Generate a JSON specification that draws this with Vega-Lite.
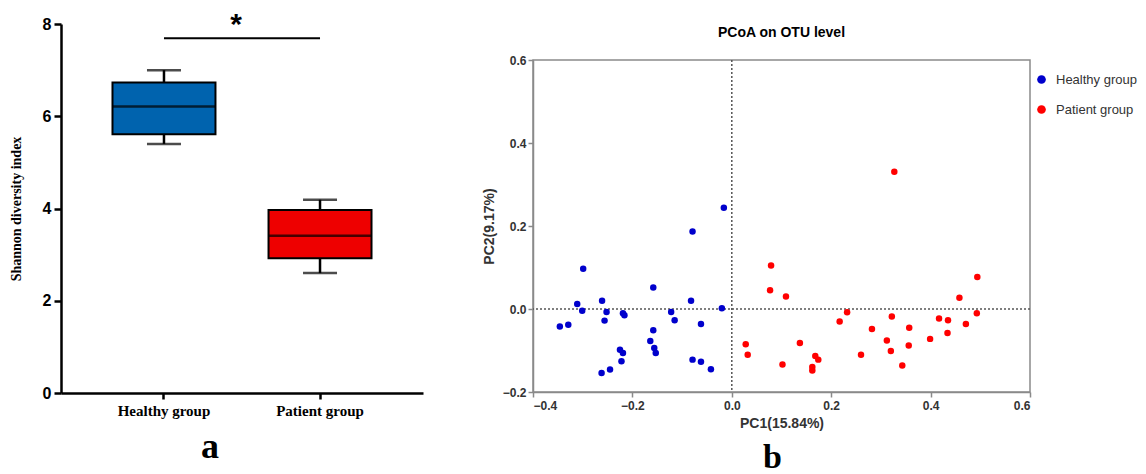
{
  "$schema": "https://vega.github.io/schema/vega-lite/v6.json",
  "background": "white",
  "padding": {"top": 10, "left": 9, "right": 0, "bottom": 0},
  "spacing": 58,
  "config": {
    "font": "Liberation Sans",
    "view": {"stroke": null},
    "axis": {"grid": false}
  },
  "hconcat": [
    {
      "width": 362,
      "height": 369,
      "title": {"text": "a", "orient": "bottom", "frame": "bounds", "anchor": "middle", "font": "Liberation Serif", "fontSize": 36, "fontWeight": "bold", "color": "black", "offset": 12, "dx": -6},
      "layer": [
        {
          "data": {"values": [
            {"group": "Healthy group", "min": 5.40, "q1": 5.61, "median": 6.21, "q3": 6.73, "max": 7.00},
            {"group": "Patient group", "min": 2.60, "q1": 2.92, "median": 3.41, "q3": 3.97, "max": 4.19}
          ]},
          "layer": [
            {
              "mark": {"type": "rule", "color": "black", "strokeWidth": 2.5},
              "encoding": {
                "x": {"field": "group", "type": "nominal", "sort": null,
                  "scale": {"paddingOuter": 0.16, "paddingInner": 0},
                  "axis": {"title": null, "labelAngle": 0, "domainColor": "black", "domainWidth": 2.5, "tickColor": "black", "tickWidth": 2.5, "tickSize": 6, "labelFont": "Liberation Serif", "labelFontSize": 15, "labelFontWeight": "bold", "labelColor": "black", "labelPadding": 4}},
                "y": {"field": "min", "type": "quantitative",
                  "scale": {"domain": [0, 8], "nice": false},
                  "axis": {"title": "Shannon diversity index", "values": [0, 2, 4, 6, 8], "domainColor": "black", "domainWidth": 2.5, "tickColor": "black", "tickWidth": 2.5, "tickSize": 7, "labelFontSize": 16, "labelFontWeight": "bold", "labelColor": "black", "labelPadding": 3, "titleFont": "Liberation Serif", "titleFontSize": 14, "titleFontWeight": "bold", "titleColor": "black", "titlePadding": 19}},
                "y2": {"field": "max"}
              }
            },
            {
              "mark": {"type": "tick", "color": "black", "size": 34, "thickness": 2.5},
              "encoding": {
                "x": {"field": "group", "type": "nominal", "sort": null},
                "y": {"field": "max", "type": "quantitative"}
              }
            },
            {
              "mark": {"type": "tick", "color": "black", "size": 34, "thickness": 2.5},
              "encoding": {
                "x": {"field": "group", "type": "nominal", "sort": null},
                "y": {"field": "min", "type": "quantitative"}
              }
            },
            {
              "mark": {"type": "bar", "width": {"band": 0.66}, "stroke": "black", "strokeWidth": 2},
              "encoding": {
                "x": {"field": "group", "type": "nominal", "sort": null},
                "y": {"field": "q1", "type": "quantitative"},
                "y2": {"field": "q3"},
                "color": {"field": "group", "type": "nominal", "scale": {"domain": ["Healthy group", "Patient group"], "range": ["#0063AE", "#EE0000"]}, "legend": null}
              }
            },
            {
              "mark": {"type": "tick", "color": "black", "size": 103, "thickness": 2.5},
              "encoding": {
                "x": {"field": "group", "type": "nominal", "sort": null},
                "y": {"field": "median", "type": "quantitative"}
              }
            }
          ]
        },
        {
          "data": {"values": [{"from": "Healthy group", "to": "Patient group", "y": 7.69, "label": "*"}]},
          "layer": [
            {
              "mark": {"type": "rule", "color": "black", "strokeWidth": 2},
              "encoding": {
                "x": {"field": "from", "type": "nominal"},
                "x2": {"field": "to"},
                "y": {"field": "y", "type": "quantitative"}
              }
            },
            {
              "mark": {"type": "text", "fontSize": 30, "fontWeight": "bold", "color": "black", "baseline": "alphabetic", "dx": 72, "dy": -4},
              "encoding": {
                "x": {"field": "from", "type": "nominal"},
                "y": {"field": "y", "type": "quantitative"},
                "text": {"field": "label"}
              }
            }
          ]
        }
      ],
      "resolve": {"scale": {"color": "independent"}}
    },
    {
      "spacing": 13,
      "resolve": {"legend": {"color": "independent"}},
      "vconcat": [
        {
          "width": 497,
          "height": 2,
          "title": {"text": "PCoA on OTU level", "orient": "bottom", "anchor": "middle", "frame": "group", "fontSize": 14, "fontWeight": "bold", "color": "black", "offset": 0},
          "data": {"values": []},
          "mark": {"type": "point"},
          "encoding": {}
        },
        {
          "width": 497,
          "height": 332,
          "title": {"text": "b", "orient": "bottom", "anchor": "middle", "frame": "group", "font": "Liberation Serif", "fontSize": 34, "fontWeight": "bold", "color": "black", "offset": 11, "dx": -9},
          "view": {"stroke": "#8a8a8a", "strokeWidth": 1.5},
          "layer": [
            {
              "data": {"values": [{"v": 0}]},
              "mark": {"type": "rule", "color": "#555", "strokeDash": [2, 2], "strokeWidth": 1.5},
              "encoding": {"x": {"field": "v", "type": "quantitative"}}
            },
            {
              "data": {"values": [{"v": 0}]},
              "mark": {"type": "rule", "color": "#555", "strokeDash": [2, 2], "strokeWidth": 1.5},
              "encoding": {"y": {"field": "v", "type": "quantitative"}}
            },
            {
              "data": {"values": [
                {"PC1": -0.346, "PC2": -0.042, "group": "Healthy group"},
                {"PC1": -0.329, "PC2": -0.038, "group": "Healthy group"},
                {"PC1": -0.311, "PC2": 0.012, "group": "Healthy group"},
                {"PC1": -0.301, "PC2": -0.004, "group": "Healthy group"},
                {"PC1": -0.299, "PC2": 0.097, "group": "Healthy group"},
                {"PC1": -0.261, "PC2": 0.020, "group": "Healthy group"},
                {"PC1": -0.252, "PC2": -0.007, "group": "Healthy group"},
                {"PC1": -0.256, "PC2": -0.028, "group": "Healthy group"},
                {"PC1": -0.219, "PC2": -0.010, "group": "Healthy group"},
                {"PC1": -0.216, "PC2": -0.015, "group": "Healthy group"},
                {"PC1": -0.225, "PC2": -0.098, "group": "Healthy group"},
                {"PC1": -0.219, "PC2": -0.106, "group": "Healthy group"},
                {"PC1": -0.222, "PC2": -0.126, "group": "Healthy group"},
                {"PC1": -0.262, "PC2": -0.154, "group": "Healthy group"},
                {"PC1": -0.245, "PC2": -0.146, "group": "Healthy group"},
                {"PC1": -0.158, "PC2": 0.052, "group": "Healthy group"},
                {"PC1": -0.158, "PC2": -0.051, "group": "Healthy group"},
                {"PC1": -0.164, "PC2": -0.077, "group": "Healthy group"},
                {"PC1": -0.156, "PC2": -0.094, "group": "Healthy group"},
                {"PC1": -0.153, "PC2": -0.106, "group": "Healthy group"},
                {"PC1": -0.122, "PC2": -0.007, "group": "Healthy group"},
                {"PC1": -0.115, "PC2": -0.027, "group": "Healthy group"},
                {"PC1": -0.082, "PC2": 0.020, "group": "Healthy group"},
                {"PC1": -0.079, "PC2": 0.187, "group": "Healthy group"},
                {"PC1": -0.062, "PC2": -0.036, "group": "Healthy group"},
                {"PC1": -0.079, "PC2": -0.122, "group": "Healthy group"},
                {"PC1": -0.062, "PC2": -0.127, "group": "Healthy group"},
                {"PC1": -0.042, "PC2": -0.145, "group": "Healthy group"},
                {"PC1": -0.020, "PC2": 0.002, "group": "Healthy group"},
                {"PC1": -0.016, "PC2": 0.244, "group": "Healthy group"},
                {"PC1": 0.327, "PC2": 0.331, "group": "Patient group"},
                {"PC1": 0.079, "PC2": 0.105, "group": "Patient group"},
                {"PC1": 0.077, "PC2": 0.045, "group": "Patient group"},
                {"PC1": 0.109, "PC2": 0.030, "group": "Patient group"},
                {"PC1": 0.494, "PC2": 0.077, "group": "Patient group"},
                {"PC1": 0.458, "PC2": 0.027, "group": "Patient group"},
                {"PC1": 0.493, "PC2": -0.010, "group": "Patient group"},
                {"PC1": 0.232, "PC2": -0.008, "group": "Patient group"},
                {"PC1": 0.217, "PC2": -0.030, "group": "Patient group"},
                {"PC1": 0.322, "PC2": -0.018, "group": "Patient group"},
                {"PC1": 0.282, "PC2": -0.048, "group": "Patient group"},
                {"PC1": 0.357, "PC2": -0.045, "group": "Patient group"},
                {"PC1": 0.417, "PC2": -0.023, "group": "Patient group"},
                {"PC1": 0.435, "PC2": -0.027, "group": "Patient group"},
                {"PC1": 0.471, "PC2": -0.036, "group": "Patient group"},
                {"PC1": 0.434, "PC2": -0.058, "group": "Patient group"},
                {"PC1": 0.399, "PC2": -0.072, "group": "Patient group"},
                {"PC1": 0.312, "PC2": -0.076, "group": "Patient group"},
                {"PC1": 0.320, "PC2": -0.101, "group": "Patient group"},
                {"PC1": 0.356, "PC2": -0.088, "group": "Patient group"},
                {"PC1": 0.343, "PC2": -0.136, "group": "Patient group"},
                {"PC1": 0.260, "PC2": -0.110, "group": "Patient group"},
                {"PC1": 0.028, "PC2": -0.085, "group": "Patient group"},
                {"PC1": 0.032, "PC2": -0.110, "group": "Patient group"},
                {"PC1": 0.102, "PC2": -0.134, "group": "Patient group"},
                {"PC1": 0.137, "PC2": -0.082, "group": "Patient group"},
                {"PC1": 0.168, "PC2": -0.113, "group": "Patient group"},
                {"PC1": 0.174, "PC2": -0.122, "group": "Patient group"},
                {"PC1": 0.162, "PC2": -0.140, "group": "Patient group"},
                {"PC1": 0.162, "PC2": -0.148, "group": "Patient group"}
              ]},
              "mark": {"type": "point", "shape": "circle", "filled": true, "opacity": 1, "size": 42},
              "encoding": {
                "x": {"field": "PC1", "type": "quantitative",
                  "scale": {"domain": [-0.4, 0.6], "nice": false, "zero": false},
                  "axis": {"title": "PC1(15.84%)", "values": [-0.4, -0.2, 0, 0.2, 0.4, 0.6], "format": ".1f", "domainColor": "#8a8a8a", "domainWidth": 1.5, "tickColor": "#8a8a8a", "tickWidth": 1.5, "tickSize": 5, "labelFontSize": 12, "labelFontWeight": "bold", "labelColor": "#333", "labelPadding": 3, "titleFontSize": 14, "titleFontWeight": "bold", "titleColor": "#333", "titlePadding": 5}},
                "y": {"field": "PC2", "type": "quantitative",
                  "scale": {"domain": [-0.2, 0.6], "nice": false, "zero": false},
                  "axis": {"title": "PC2(9.17%)", "values": [-0.2, 0, 0.2, 0.4, 0.6], "format": ".1f", "domainColor": "#8a8a8a", "domainWidth": 1.5, "tickColor": "#8a8a8a", "tickWidth": 1.5, "tickSize": 5, "labelFontSize": 12, "labelFontWeight": "bold", "labelColor": "#333", "labelPadding": 2, "titleFontSize": 14, "titleFontWeight": "bold", "titleColor": "#333", "titlePadding": 6}},
                "color": {"field": "group", "type": "nominal",
                  "scale": {"domain": ["Healthy group", "Patient group"], "range": ["#0000CC", "#FF0000"]},
                  "legend": {"title": null, "orient": "right", "offset": -8, "padding": 13, "symbolType": "circle", "symbolSize": 75, "symbolStrokeWidth": 0, "labelFontSize": 13, "labelColor": "#333", "labelOffset": 8, "rowPadding": 16}}
              }
            }
          ]
        }
      ]
    }
  ]
}
